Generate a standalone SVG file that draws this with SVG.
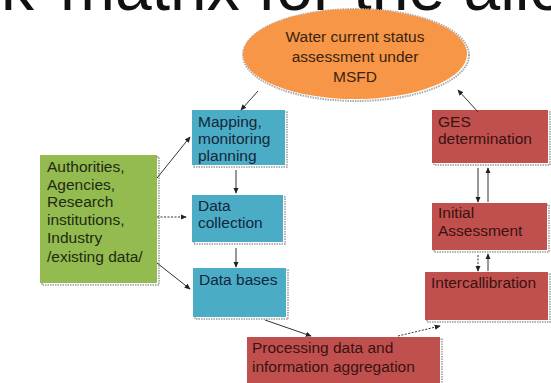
<svg xmlns="http://www.w3.org/2000/svg" width="551" height="383" viewBox="0 0 551 383">
<style>
.t{font-family:"Liberation Sans",Arial,sans-serif;font-size:15.5px;}
.title{font-family:"Liberation Sans",Arial,sans-serif;font-size:66px;fill:#111;}
.sh{fill:none;stroke:#9a9a9a;stroke-width:1.5;stroke-dasharray:1.5 1;}
.blue{fill:#4bacc6;}
.green{fill:#93bb4f;}
.red{fill:#c0504d;}
.tb{fill:#14263a;}
.tg{fill:#1f2a12;}
.tr{fill:#3a1212;}
.c{stroke:#333;stroke-width:1;fill:none;marker-end:url(#ah);}
.d{stroke-dasharray:2 1.5;}
</style>
<defs>
<marker id="ah" viewBox="0 0 8 8" refX="7" refY="4" markerWidth="6" markerHeight="6" orient="auto" markerUnits="userSpaceOnUse">
<path d="M0,0.5 L8,4 L0,7.5 Z" fill="#222"/>
</marker>
</defs>
<rect width="551" height="383" fill="#fff"/>
<text class="title" y="10"><tspan x="34" text-anchor="end">k</tspan><tspan x="60">matrix for the allo</tspan></text>

<g id="ellipse">
<ellipse cx="356" cy="55" rx="113" ry="46" fill="none" stroke="#aaa" stroke-width="2" stroke-dasharray="1.5 1"/>
<ellipse cx="355" cy="54" rx="112" ry="45" fill="#f79646"/>
<text class="t" fill="#3a2410" text-anchor="middle" font-size="14.5"><tspan x="355" y="42">Water current status</tspan><tspan x="355" y="62">assessment under</tspan><tspan x="355" y="82">MSFD</tspan></text>
</g>

<g id="mapping">
<rect class="sh" x="194" y="112" width="93" height="55"/>
<rect class="blue" x="192" y="110" width="93" height="55"/>
<text class="t tb"><tspan x="198" y="127">Mapping,</tspan><tspan x="198" y="144">monitoring</tspan><tspan x="198" y="161">planning</tspan></text>
</g>

<g id="datacollection">
<rect class="sh" x="194" y="197" width="91" height="47"/>
<rect class="blue" x="192" y="195" width="91" height="47"/>
<text class="t tb"><tspan x="198" y="211">Data</tspan><tspan x="198" y="228">collection</tspan></text>
</g>

<g id="databases">
<rect class="sh" x="195" y="270" width="93" height="49"/>
<rect class="blue" x="193" y="268" width="93" height="49"/>
<text class="t tb"><tspan x="199" y="285">Data bases</tspan></text>
</g>

<g id="authorities">
<rect class="sh" x="42" y="157" width="117" height="128"/>
<rect class="green" x="40" y="155" width="117" height="128"/>
<text class="t tg"><tspan x="47" y="172">Authorities,</tspan><tspan x="47" y="190">Agencies,</tspan><tspan x="47" y="207">Research</tspan><tspan x="47" y="225">institutions,</tspan><tspan x="47" y="243">Industry</tspan><tspan x="47" y="262">/existing data/</tspan></text>
</g>

<g id="ges">
<rect class="sh" x="434" y="112" width="116" height="53"/>
<rect class="red" x="432" y="110" width="116" height="53"/>
<text class="t tr"><tspan x="438" y="127">GES</tspan><tspan x="438" y="144">determination</tspan></text>
</g>

<g id="initial">
<rect class="sh" x="434" y="205" width="115" height="47"/>
<rect class="red" x="432" y="203" width="115" height="47"/>
<text class="t tr"><tspan x="438" y="218">Initial</tspan><tspan x="438" y="236">Assessment</tspan></text>
</g>

<g id="intercal">
<rect class="sh" x="427" y="274" width="123" height="48"/>
<rect class="red" x="425" y="272" width="123" height="48"/>
<text class="t tr"><tspan x="431" y="288">Intercallibration</tspan></text>
</g>

<g id="processing">
<rect class="sh" x="249" y="339" width="193" height="50"/>
<rect class="red" x="247" y="337" width="193" height="50"/>
<text class="t tr"><tspan x="252" y="353">Processing data and</tspan><tspan x="252" y="372">information  aggregation</tspan></text>
</g>

<g id="connectors">
<line class="c" x1="258" y1="91" x2="241" y2="110"/>
<line class="c" x1="478" y1="112" x2="458" y2="90"/>
<line class="c" x1="157" y1="178" x2="190" y2="137"/>
<line class="c d" x1="157" y1="217" x2="186" y2="217"/>
<line class="c" x1="157" y1="263" x2="190" y2="289"/>
<line class="c" x1="236" y1="170" x2="236" y2="193"/>
<line class="c" x1="236" y1="248" x2="236" y2="267"/>
<line class="c" x1="265" y1="320" x2="311" y2="336"/>
<line class="c d" x1="398" y1="336" x2="440" y2="326"/>
<line class="c" x1="478" y1="168" x2="478" y2="202"/>
<line class="c" x1="488" y1="202" x2="488" y2="168"/>
<line class="c d" x1="478" y1="255" x2="478" y2="271"/>
<line class="c" x1="488" y1="271" x2="488" y2="254"/>
</g>
</svg>
